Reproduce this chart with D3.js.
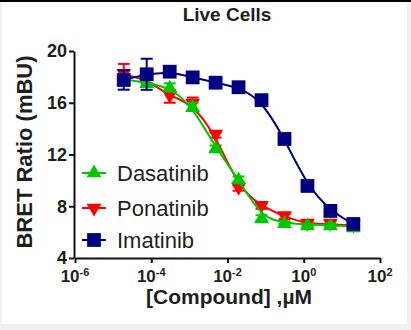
<!DOCTYPE html>
<html lang="en">
  <head>
    <meta charset="utf-8" />
    <title>Live Cells - BRET</title>
    <script src="https://d3js.org/d3.v7.min.js"></script>
    <style>
      body { margin: 0; background: #f0f0f0; }
      text { font-family: "Liberation Sans", Arial, sans-serif; fill: #1e1e1e; }
    </style>
  </head>
  <body>
    <div class="chart"></div>
    <script>
      let w = 411;
      let h = 330;

      // 4-fold dilution series, top = 20 uM
      let conc = [1.9e-5, 7.6e-5, 3.05e-4, 1.22e-3, 4.88e-3, 1.95e-2, 7.8e-2, 0.3125, 1.25, 5, 20];

      let dasatinib = [17.8, 17.55, 17.2, 15.7, 12.5, 10.1, 7.1, 6.73, 6.55, 6.55, 6.4];
      let dasatinibErr = [0.3, 0.3, 0.3, 0.3, 0.2, 0.2, 0.2, 0.1, 0.1, 0.1, 0.1];

      let ponatinib = [18.2, 17.8, 16.5, 15.9, 13.5, 9.4, 8.0, 7.2, 6.63, 6.63, 6.5];
      let ponatinibErr = [0.8, 0.3, 0.5, 0.5, 0.2, 0.2, 0.2, 0.2, 0.2, 0.2, 0.1];

      let imatinib = [17.76, 18.2, 18.4, 17.96, 17.55, 17.2, 16.2, 13.2, 9.57, 7.64, 6.63];
      let imatinibErr = [0.75, 1.2, 0.3, 0.2, 0.3, 0.2, 0.2, 0.3, 0.3, 0.2, 0.2];

      let yTicks = [4, 8, 12, 16, 20];
      let xTicks = [1e-6, 1e-4, 1e-2, 1, 1e2];
      let xTickExp = ["-6", "-4", "-2", "0", "2"];

      let svg = d3.select(".chart").append("svg").attr("width", w).attr("height", h);

      // frame
      svg.append("rect").attr("x", 2).attr("y", 2).attr("width", 405).attr("height", 322).attr("fill", "white");
      svg.append("rect").attr("x", 0).attr("y", 0).attr("width", w).attr("height", 2).attr("fill", "black");

      let x = d3.scaleLog().domain([1e-6, 1e2]).range([75, 380]);
      let y = d3.scaleLinear().domain([4, 20]).range([258, 51]);

      // axes
      let yAxis = svg.append("g")
        .attr("transform", "translate(74,0)")
        .call(d3.axisLeft(y).tickValues(yTicks).tickSize(5).tickSizeOuter(0).tickPadding(2));
      yAxis.selectAll("text").style("font-size", "18px").style("font-weight", "bold");

      let xAxis = svg.append("g")
        .attr("transform", "translate(0,258)")
        .call(d3.axisBottom(x).tickValues(xTicks).tickFormat("").tickSize(5).tickSizeOuter(0));
      svg.selectAll(".domain, .tick line").attr("stroke", "#111").attr("stroke-width", 2);

      let xl = svg.append("g").selectAll("text").data(xTicks).join("text")
        .attr("x", function (d) { return x(d); })
        .attr("y", 282)
        .attr("text-anchor", "middle")
        .style("font-size", "17px")
        .style("font-weight", "bold");
      xl.append("tspan").text("10");
      xl.append("tspan")
        .attr("dy", -6)
        .style("font-size", "11px")
        .text(function (d, i) { return xTickExp[i]; });

      // titles
      svg.append("text").attr("x", 227).attr("y", 21).attr("text-anchor", "middle")
        .style("font-size", "19px").style("font-weight", "bold").text("Live Cells");
      svg.append("text").attr("transform", "translate(32,152) rotate(-90)").attr("text-anchor", "middle")
        .style("font-size", "22px").style("font-weight", "bold").text("BRET Ratio (mBU)");
      svg.append("text").attr("x", 229).attr("y", 304).attr("text-anchor", "middle")
        .style("font-size", "21px").style("font-weight", "bold").text("[Compound] ,µM");

      let series = [
        { name: "Ponatinib", vals: ponatinib, err: ponatinibErr, color: "#ff0000", shape: "down" },
        { name: "Dasatinib", vals: dasatinib, err: dasatinibErr, color: "#00c800", shape: "up" },
        { name: "Imatinib", vals: imatinib, err: imatinibErr, color: "#000080", shape: "square" },
      ];

      let sym = {
        up: d3.symbol().type(d3.symbolTriangle).size(95),
        down: d3.symbol().type(d3.symbolTriangle).size(95),
        square: d3.symbol().type(d3.symbolSquare).size(190),
      };

      let line = d3.line()
        .x(function (d, i) { return x(conc[i]); })
        .y(function (d) { return y(d); })
        .curve(d3.curveBasis);

      series.forEach(function (s) {
        let g = svg.append("g");
        g.append("path").datum(s.vals).attr("d", line)
          .attr("fill", "none").attr("stroke", s.color).attr("stroke-width", 2);

        // error bars
        let eb = g.selectAll(".eb").data(s.vals).join("g");
        eb.append("line")
          .attr("x1", function (d, i) { return x(conc[i]); })
          .attr("x2", function (d, i) { return x(conc[i]); })
          .attr("y1", function (d, i) { return y(d + s.err[i]); })
          .attr("y2", function (d, i) { return y(d - s.err[i]); })
          .attr("stroke", s.color).attr("stroke-width", 2);
        [1, -1].forEach(function (sgn) {
          eb.append("line")
            .attr("x1", function (d, i) { return x(conc[i]) - 6; })
            .attr("x2", function (d, i) { return x(conc[i]) + 6; })
            .attr("y1", function (d, i) { return y(d + sgn * s.err[i]); })
            .attr("y2", function (d, i) { return y(d + sgn * s.err[i]); })
            .attr("stroke", s.color).attr("stroke-width", 2);
        });

        g.selectAll(".pt").data(s.vals).join("path")
          .attr("d", sym[s.shape])
          .attr("transform", function (d, i) {
            let t = "translate(" + x(conc[i]) + "," + y(d) + ")";
            if (s.shape == "up") t += " translate(0,1)";
            if (s.shape == "down") t += " translate(0,-1) rotate(180)";
            return t;
          })
          .attr("fill", s.color);
      });

      // legend
      let legend = [
        { name: "Dasatinib", color: "#00c800", shape: "up", ly: 173 },
        { name: "Ponatinib", color: "#ff0000", shape: "down", ly: 208 },
        { name: "Imatinib", color: "#000080", shape: "square", ly: 240 },
      ];
      let lg = svg.append("g").selectAll("g").data(legend).join("g")
        .attr("transform", function (d) { return "translate(94," + d.ly + ")"; });
      lg.append("line").attr("x1", -12).attr("x2", 12)
        .attr("stroke", function (d) { return d.color; }).attr("stroke-width", 2);
      lg.append("path")
        .attr("d", function (d) { return sym[d.shape](); })
        .attr("transform", function (d) { return d.shape == "down" ? "rotate(180)" : ""; })
        .attr("fill", function (d) { return d.color; });
      lg.append("text").attr("x", 23).attr("y", 8)
        .style("font-size", "22px")
        .text(function (d) { return d.name; });
    </script>
  </body>
</html>
